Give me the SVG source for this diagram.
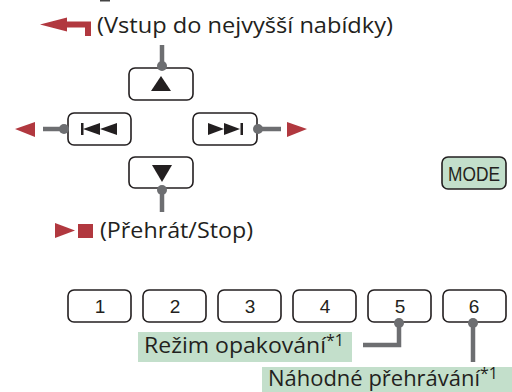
<svg xmlns="http://www.w3.org/2000/svg" width="512" height="392" viewBox="0 0 512 392">
<defs>
<style>
.btn{fill:#fff;stroke:#231f20;stroke-width:1.6}
.mode{fill:#c3dfcb;stroke:#231f20;stroke-width:1.6}
.sym{fill:#231f20}
.red{fill:#b1383f}
.con{stroke:#6d6e71;stroke-width:4.5;fill:none}
.dot{fill:#6d6e71}
.lbl{font-family:"Open Sans","Noto Sans",sans-serif;font-size:22px;fill:#231f20}
.num{font-family:"Liberation Sans",Arial,sans-serif;font-size:19px;fill:#231f20;text-anchor:middle}
.hl{fill:#c3dfcb}
</style>
</defs>
<rect x="100" y="0" width="10" height="1.5" fill="#444"/>
<g id="arrow-top">
<polygon class="red" points="40,24.5 67,17.5 67,21.5 91,21.5 91,36 85,36 85,27.5 67,27.5 67,31.5"/>
<text class="lbl" x="97" y="33" textLength="296" lengthAdjust="spacingAndGlyphs">(Vstup do nejvyšší nabídky)</text>
</g>
<g id="btn-up">
<rect class="btn" x="129" y="68" width="64" height="32" rx="6"/>
<polygon class="sym" points="151,91 171,91 161,76"/>
</g>
<g id="btn-prev">
<rect class="btn" x="68" y="113" width="63" height="32" rx="6"/>
<rect class="sym" x="81" y="123" width="2.5" height="12"/>
<polygon class="sym" points="83,129 100,123 100,135"/>
<polygon class="sym" points="100,129 117,123 117,135"/>
</g>
<g id="btn-next">
<rect class="btn" x="193" y="113" width="64" height="32" rx="6"/>
<polygon class="sym" points="208,123 208,135 224,129"/>
<polygon class="sym" points="224,123 224,135 240,129"/>
<rect class="sym" x="240.5" y="123" width="2.5" height="12"/>
</g>
<g id="btn-down">
<rect class="btn" x="129" y="157" width="64" height="31" rx="6"/>
<polygon class="sym" points="152,165 172,165 162,182"/>
</g>
<g id="btn-mode">
<rect class="mode" x="442" y="157" width="64" height="32" rx="6"/>
<text x="474" y="180.5" font-family="Liberation Sans, Arial, sans-serif" font-size="20" fill="#231f20" text-anchor="middle" textLength="52" lengthAdjust="spacingAndGlyphs">MODE</text>
</g>
<g id="play-stop">
<polygon class="red" points="55,223 75,230.5 55,238"/>
<rect class="red" x="78" y="224" width="15" height="14"/>
<text class="lbl" x="100" y="238" textLength="153" lengthAdjust="spacingAndGlyphs">(Přehrát/Stop)</text>
</g>
<g id="arrows-side">
<polygon class="red" points="15,129 35,122 35,137"/>
<polygon class="red" points="307,129 287,122 287,137"/>
</g>
<g id="btn-1"><rect class="btn" x="68" y="290" width="63" height="32" rx="6"/><text class="num" x="100" y="313">1</text></g>
<g id="btn-2"><rect class="btn" x="143" y="290" width="63" height="32" rx="6"/><text class="num" x="175" y="313">2</text></g>
<g id="btn-3"><rect class="btn" x="218" y="290" width="63" height="32" rx="6"/><text class="num" x="250" y="313">3</text></g>
<g id="btn-4"><rect class="btn" x="293" y="290" width="63" height="32" rx="6"/><text class="num" x="325" y="313">4</text></g>
<g id="btn-5"><rect class="btn" x="368" y="290" width="63" height="32" rx="6"/><text class="num" x="400" y="313">5</text></g>
<g id="btn-6"><rect class="btn" x="443" y="290" width="63" height="32" rx="6"/><text class="num" x="474" y="313">6</text></g>
<g id="label-repeat">
<rect class="hl" x="138" y="332" width="214" height="30"/>
<text class="lbl" x="144" y="353"><tspan textLength="182" lengthAdjust="spacingAndGlyphs">Režim opakování</tspan><tspan font-size="16" dy="-7">*1</tspan></text>
</g>
<g id="label-shuffle">
<rect class="hl" x="262" y="367" width="250" height="25"/>
<text class="lbl" x="268" y="386"><tspan textLength="212" lengthAdjust="spacingAndGlyphs">Náhodné přehrávání</tspan><tspan font-size="16" dy="-7">*1</tspan></text>
</g>
<g id="connectors">
<line class="con" x1="162" y1="45" x2="162" y2="66"/>
<circle class="dot" cx="162" cy="66" r="5"/>
<line class="con" x1="43" y1="129" x2="64" y2="129"/>
<circle class="dot" cx="64" cy="129" r="5"/>
<line class="con" x1="258" y1="129" x2="281" y2="129"/>
<circle class="dot" cx="258" cy="129" r="5"/>
<line class="con" x1="162" y1="190" x2="162" y2="212"/>
<circle class="dot" cx="162" cy="190" r="5"/>
<polyline class="con" points="399,323 399,345 363,345"/>
<circle class="dot" cx="399" cy="323" r="5"/>
<line class="con" x1="473" y1="323" x2="473" y2="362"/>
<circle class="dot" cx="473" cy="323" r="5"/>
</g>
</svg>
